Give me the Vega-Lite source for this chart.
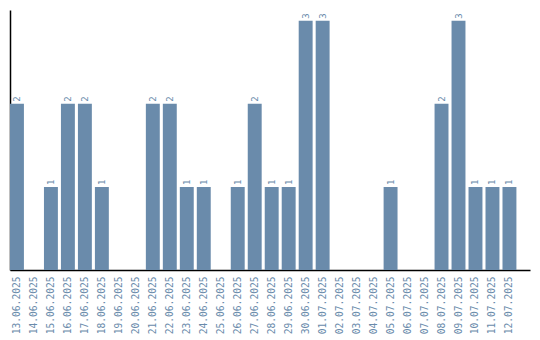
{
  "$schema": "https://vega.github.io/schema/vega-lite/v6.json",
  "width": 520,
  "height": 260,
  "autosize": "none",
  "padding": {"left": 10, "top": 10, "right": 10, "bottom": 70},
  "background": "white",
  "config": {"view": {"stroke": null}, "font": "DejaVu Sans Mono"},
  "data": {"values": [
    {"date": "13.06.2025", "count": 2},
    {"date": "14.06.2025", "count": 0},
    {"date": "15.06.2025", "count": 1},
    {"date": "16.06.2025", "count": 2},
    {"date": "17.06.2025", "count": 2},
    {"date": "18.06.2025", "count": 1},
    {"date": "19.06.2025", "count": 0},
    {"date": "20.06.2025", "count": 0},
    {"date": "21.06.2025", "count": 2},
    {"date": "22.06.2025", "count": 2},
    {"date": "23.06.2025", "count": 1},
    {"date": "24.06.2025", "count": 1},
    {"date": "25.06.2025", "count": 0},
    {"date": "26.06.2025", "count": 1},
    {"date": "27.06.2025", "count": 2},
    {"date": "28.06.2025", "count": 1},
    {"date": "29.06.2025", "count": 1},
    {"date": "30.06.2025", "count": 3},
    {"date": "01.07.2025", "count": 3},
    {"date": "02.07.2025", "count": 0},
    {"date": "03.07.2025", "count": 0},
    {"date": "04.07.2025", "count": 0},
    {"date": "05.07.2025", "count": 1},
    {"date": "06.07.2025", "count": 0},
    {"date": "07.07.2025", "count": 0},
    {"date": "08.07.2025", "count": 2},
    {"date": "09.07.2025", "count": 3},
    {"date": "10.07.2025", "count": 1},
    {"date": "11.07.2025", "count": 1},
    {"date": "12.07.2025", "count": 1}
  ]},
  "encoding": {
    "x": {
      "field": "date", "type": "ordinal", "sort": null,
      "scale": {"paddingInner": 0.18, "paddingOuter": 0.4, "align": 0},
      "axis": {
        "title": null, "labelAngle": -90, "ticks": false,
        "domainColor": "black", "domainWidth": 1.5,
        "labelColor": "#6a8bab", "labelFontSize": 9.6, "labelPadding": 6,
        "labelFont": "DejaVu Sans Mono"
      }
    },
    "y": {
      "field": "count", "type": "quantitative",
      "scale": {"domain": [0, 3.13], "nice": false},
      "axis": {
        "title": null, "labels": false, "ticks": false, "grid": false,
        "domainColor": "black", "domainWidth": 1.5
      }
    }
  },
  "layer": [
    {"mark": {"type": "bar", "color": "#6a8bab"}},
    {
      "transform": [{"filter": "datum.count > 0"}],
      "mark": {"type": "text", "angle": 270, "align": "left", "baseline": "middle", "dx": 2, "fontSize": 9, "font": "DejaVu Sans Mono", "color": "#6a8bab"},
      "encoding": {"text": {"field": "count", "type": "quantitative"}}
    }
  ]
}
